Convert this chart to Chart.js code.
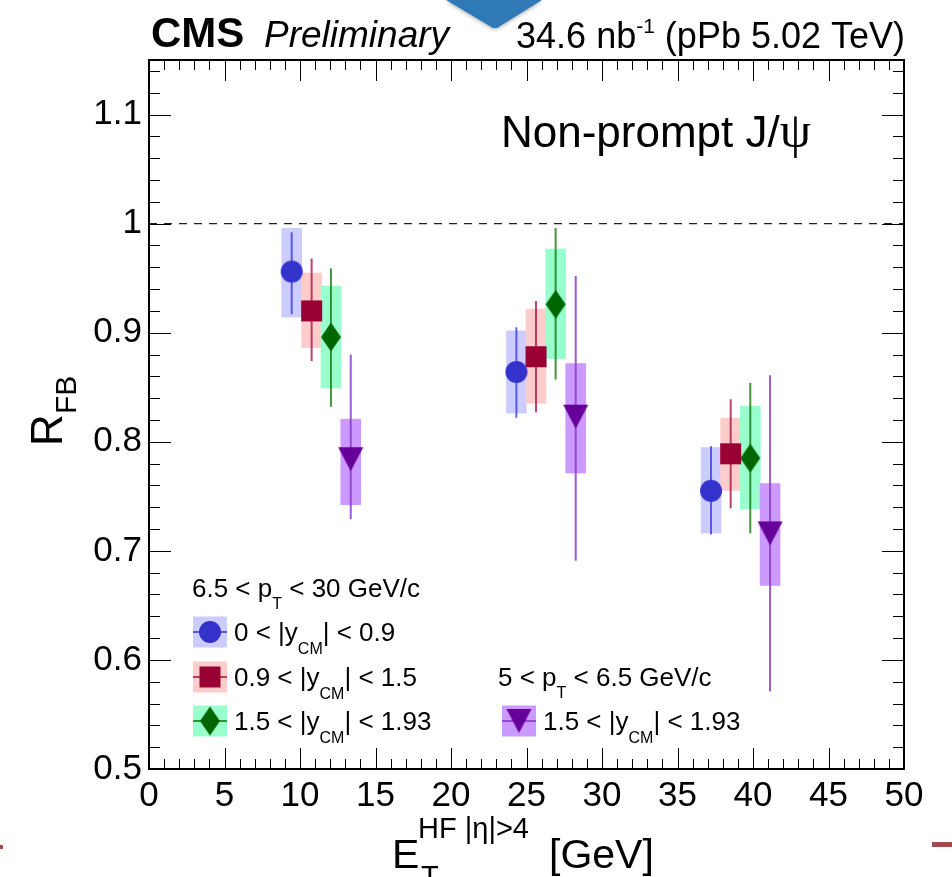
<!DOCTYPE html>
<html><head><meta charset="utf-8">
<script src="https://cdn.jsdelivr.net/npm/chart.js@4.4.0/dist/chart.umd.min.js"></script>
<style>html,body{margin:0;padding:0;background:#fff;}#wrap{width:952px;height:877px;position:relative;}</style>
</head><body><div id="wrap"><canvas id="c" width="952" height="877"></canvas></div>
<script>
// ---------------- DATA ----------------
const xTickValues = [0, 5, 10, 15, 20, 25, 30, 35, 40, 45, 50];
const xTickLabels = ['0','5','10','15','20','25','30','35','40','45','50'];
const yTickValues = [0.5, 0.6, 0.7, 0.8, 0.9, 1.0, 1.1];
const yTickLabels = ['0.5','0.6','0.7','0.8','0.9','1','1.1'];

// 6.5 < pT < 30 GeV/c, 0 < |y_CM| < 0.9
const blueX      = [9.45, 24.33, 37.22];
const blueY      = [0.956, 0.864, 0.755];
const blueStatLo = [0.917, 0.822, 0.715];
const blueStatHi = [0.992, 0.905, 0.796];
const blueSystLo = [0.914, 0.826, 0.716];
const blueSystHi = [0.996, 0.902, 0.795];

// 6.5 < pT < 30 GeV/c, 0.9 < |y_CM| < 1.5
const redX      = [10.77, 25.63, 38.52];
const redY      = [0.920, 0.878, 0.789];
const redStatLo = [0.874, 0.827, 0.739];
const redStatHi = [0.968, 0.929, 0.839];
const redSystLo = [0.886, 0.835, 0.755];
const redSystHi = [0.955, 0.922, 0.822];

// 6.5 < pT < 30 GeV/c, 1.5 < |y_CM| < 1.93
const greenX      = [12.05, 26.93, 39.82];
const greenY      = [0.896, 0.926, 0.785];
const greenStatLo = [0.832, 0.857, 0.716];
const greenStatHi = [0.959, 0.996, 0.854];
const greenSystLo = [0.849, 0.876, 0.738];
const greenSystHi = [0.943, 0.977, 0.833];

// 5 < pT < 6.5 GeV/c, 1.5 < |y_CM| < 1.93
const purpleX      = [13.36, 28.26, 41.13];
const purpleY      = [0.784, 0.823, 0.716];
const purpleStatLo = [0.729, 0.691, 0.571];
const purpleStatHi = [0.880, 0.952, 0.861];
const purpleSystLo = [0.742, 0.771, 0.668];
const purpleSystHi = [0.821, 0.872, 0.762];

const referenceLine = [1.0];

// ---------------- STYLE ----------------
const FONT = '"Liberation Sans", Arial, Helvetica, sans-serif';
function makeMarker(shape, color, w, h) {
  const c = document.createElement('canvas');
  c.width = w + 2; c.height = h + 2;
  const g = c.getContext('2d');
  const cx = (w + 2) / 2, cy = (h + 2) / 2;
  g.fillStyle = color; g.beginPath();
  if (shape === 'circle') g.arc(cx, cy, w / 2, 0, 2 * Math.PI);
  else if (shape === 'square') g.rect(cx - w / 2, cy - h / 2, w, h);
  else if (shape === 'diamond') { g.moveTo(cx, cy - h / 2); g.lineTo(cx + w / 2, cy); g.lineTo(cx, cy + h / 2); g.lineTo(cx - w / 2, cy); g.closePath(); }
  else if (shape === 'tridown') { g.moveTo(cx - w / 2, cy - h / 2); g.lineTo(cx + w / 2, cy - h / 2); g.lineTo(cx, cy + h / 2); g.closePath(); }
  g.fill();
  return c;
}

const series = [
  { x: blueX, y: blueY, sLo: blueStatLo, sHi: blueStatHi, yLo: blueSystLo, yHi: blueSystHi,
    marker: makeMarker('circle', '#3333cc', 22, 22), bar: 'rgba(60,60,215,0.8)', box: '#ccccff' },
  { x: redX, y: redY, sLo: redStatLo, sHi: redStatHi, yLo: redSystLo, yHi: redSystHi,
    marker: makeMarker('square', '#990033', 21, 21), bar: 'rgba(170,20,70,0.8)', box: '#ffcccc' },
  { x: greenX, y: greenY, sLo: greenStatLo, sHi: greenStatHi, yLo: greenSystLo, yHi: greenSystHi,
    marker: makeMarker('diamond', '#006600', 20, 29), bar: 'rgba(20,120,20,0.8)', box: '#99ffcc' },
  { x: purpleX, y: purpleY, sLo: purpleStatLo, sHi: purpleStatHi, yLo: purpleSystLo, yHi: purpleSystHi,
    marker: makeMarker('tridown', '#660099', 25, 24), bar: 'rgba(140,60,200,0.85)', box: '#cc99ff' }
];
const BOX_HALF = 10.3;

function rich(ctx, parts, x, y) {
  let cx = x;
  for (const p of parts) {
    ctx.font = (p.style || '') + ' ' + p.size + 'px ' + (p.family || FONT);
    ctx.fillText(p.t, cx, y + (p.dy || 0));
    cx += ctx.measureText(p.t).width;
  }
  return cx;
}
function richWidth(ctx, parts) {
  let w = 0;
  for (const p of parts) { ctx.font = (p.style || '') + ' ' + p.size + 'px ' + (p.family || FONT); w += ctx.measureText(p.t).width; }
  return w;
}

const decoPlugin = {
  id: 'deco',
  beforeDatasetsDraw(chart) {
    const ctx = chart.ctx, xs = chart.scales.x, ys = chart.scales.y, a = chart.chartArea;
    ctx.save();
    ctx.strokeStyle = '#222'; ctx.lineWidth = 1.3; ctx.setLineDash([8, 7]);
    for (const v of referenceLine) {
      const yy = ys.getPixelForValue(v);
      ctx.beginPath(); ctx.moveTo(a.left, yy); ctx.lineTo(a.right, yy); ctx.stroke();
    }
    ctx.setLineDash([]);
    for (const s of series) {
      ctx.fillStyle = s.box;
      s.x.forEach((xv, i) => {
        const xc = xs.getPixelForValue(xv);
        const y1 = ys.getPixelForValue(s.yHi[i]), y2 = ys.getPixelForValue(s.yLo[i]);
        ctx.fillRect(xc - BOX_HALF, y1, 2 * BOX_HALF, y2 - y1);
      });
    }
    ctx.lineWidth = 2;
    for (const s of series) {
      ctx.strokeStyle = s.bar;
      s.x.forEach((xv, i) => {
        const xc = xs.getPixelForValue(xv);
        ctx.beginPath();
        ctx.moveTo(xc, ys.getPixelForValue(s.sHi[i]));
        ctx.lineTo(xc, ys.getPixelForValue(s.sLo[i]));
        ctx.stroke();
      });
    }
    ctx.restore();
  },
  afterDraw(chart) {
    const ctx = chart.ctx, xs = chart.scales.x, ys = chart.scales.y, a = chart.chartArea;
    ctx.save();
    ctx.strokeStyle = '#000'; ctx.lineWidth = 1;
    ctx.beginPath();
    for (let v = 0; v <= 50; v += 1) {
      const p = Math.round(xs.getPixelForValue(v)) + 0.5;
      const L = (v % 5 === 0) ? 21 : 10;
      ctx.moveTo(p, a.bottom); ctx.lineTo(p, a.bottom - L);
      ctx.moveTo(p, a.top); ctx.lineTo(p, a.top + L);
    }
    for (let k = 0; k <= 32; k++) {
      const v = 0.5 + 0.02 * k;
      const p = Math.round(ys.getPixelForValue(v)) + 0.5;
      const L = (k % 5 === 0) ? 22 : 11;
      ctx.moveTo(a.left, p); ctx.lineTo(a.left + L, p);
      ctx.moveTo(a.right, p); ctx.lineTo(a.right - L, p);
    }
    ctx.stroke();
    ctx.lineWidth = 2;
    ctx.strokeRect(a.left, a.top, a.right - a.left, a.bottom - a.top);

    ctx.fillStyle = '#000'; ctx.textBaseline = 'alphabetic'; ctx.textAlign = 'left';
    rich(ctx, [{ t: 'CMS', size: 42, style: 'bold' }], 151, 47);
    rich(ctx, [{ t: 'Preliminary', size: 37, style: 'italic' }], 264, 47);
    const lumi = [{ t: '34.6 nb', size: 36 }, { t: '-1', size: 21, dy: -15 }, { t: ' (pPb 5.02 TeV)', size: 36 }];
    rich(ctx, lumi, 905 - richWidth(ctx, lumi), 48);
    rich(ctx, [{ t: 'Non-prompt J/', size: 44 }, { t: 'ψ', size: 50, family: '"Liberation Serif", "DejaVu Serif", serif' }], 501, 147);
    rich(ctx, [{ t: 'E', size: 41 }], 392, 868);
    rich(ctx, [{ t: 'HF |η|>4', size: 29 }], 418, 838);
    rich(ctx, [{ t: 'T', size: 29 }], 421, 886);
    rich(ctx, [{ t: '[GeV]', size: 41 }], 549, 868);
    ctx.save();
    ctx.translate(62, 446); ctx.rotate(-Math.PI / 2);
    rich(ctx, [{ t: 'R', size: 44 }], 0, 0);
    rich(ctx, [{ t: 'FB', size: 30 }], 32, 14);
    ctx.restore();

    const LS = 26, SS = 16;
    rich(ctx, [{ t: '6.5 < p', size: LS }, { t: 'T', size: SS, dy: 12 }, { t: ' < 30 GeV/c', size: LS }], 192, 597);
    rich(ctx, [{ t: '5 < p', size: LS }, { t: 'T', size: SS, dy: 12 }, { t: ' < 6.5 GeV/c', size: LS }], 498, 686);
    const legRows = [
      { s: series[0], bx: 193, cy: 632, label: ['0 < |y', '| < 0.9'] },
      { s: series[1], bx: 193, cy: 677, label: ['0.9 < |y', '| < 1.5'] },
      { s: series[2], bx: 193, cy: 721, label: ['1.5 < |y', '| < 1.93'] },
      { s: series[3], bx: 502, cy: 721, label: ['1.5 < |y', '| < 1.93'] }
    ];
    for (const r of legRows) {
      ctx.fillStyle = r.s.box;
      ctx.fillRect(r.bx, r.cy - 15.5, 34, 31);
      ctx.strokeStyle = r.s.bar; ctx.lineWidth = 2;
      ctx.beginPath(); ctx.moveTo(r.bx, r.cy); ctx.lineTo(r.bx + 34, r.cy); ctx.stroke();
      const m = r.s.marker;
      ctx.drawImage(m, r.bx + 17 - m.width / 2, r.cy - m.height / 2);
      ctx.fillStyle = '#000';
      rich(ctx, [{ t: r.label[0], size: LS }, { t: 'CM', size: SS, dy: 13 }, { t: r.label[1], size: LS }], r.bx + 41, r.cy + 9);
    }

    ctx.fillStyle = '#a34a4a';
    ctx.fillRect(0, 845, 3, 4);
    ctx.fillRect(932, 842, 20, 5);
    ctx.shadowColor = 'rgba(0,0,0,0.35)'; ctx.shadowBlur = 4; ctx.shadowOffsetY = 1;
    ctx.fillStyle = '#2f7ab6';
    ctx.beginPath(); ctx.moveTo(446, 0); ctx.lineTo(542, 0); ctx.lineTo(497, 28); ctx.lineTo(493, 28); ctx.closePath(); ctx.fill();
    ctx.restore();
  }
};

new Chart(document.getElementById('c'), {
  type: 'scatter',
  data: {
    datasets: series.map((s, k) => ({
      label: 'series' + k,
      data: s.x.map((xv, i) => ({ x: xv, y: s.y[i] })),
      pointStyle: s.marker,
      pointRadius: 11,
      showLine: false
    }))
  },
  options: {
    responsive: false, animation: false, devicePixelRatio: 1,
    layout: { padding: { top: 60, right: 48, left: 0, bottom: 0 } },
    plugins: { legend: { display: false }, tooltip: { enabled: false } },
    scales: {
      x: {
        type: 'linear', min: 0, max: 50,
        afterBuildTicks: sc => { sc.ticks = xTickValues.map(v => ({ value: v })); },
        afterFit: sc => { sc.height = 108; },
        ticks: { callback: (v, i) => xTickLabels[i], autoSkip: false, maxRotation: 0, padding: 6,
                 color: '#000', font: { family: FONT, size: 35 } },
        grid: { display: false, drawTicks: false }, border: { display: false }
      },
      y: {
        type: 'linear', min: 0.5, max: 1.15,
        afterBuildTicks: sc => { sc.ticks = yTickValues.map(v => ({ value: v })); },
        afterFit: sc => { sc.width = 149; },
        ticks: { callback: (v, i) => yTickLabels[i], autoSkip: false, padding: 7,
                 color: '#000', font: { family: FONT, size: 35 } },
        grid: { display: false, drawTicks: false }, border: { display: false }
      }
    }
  },
  plugins: [decoPlugin]
});
</script></body></html>
